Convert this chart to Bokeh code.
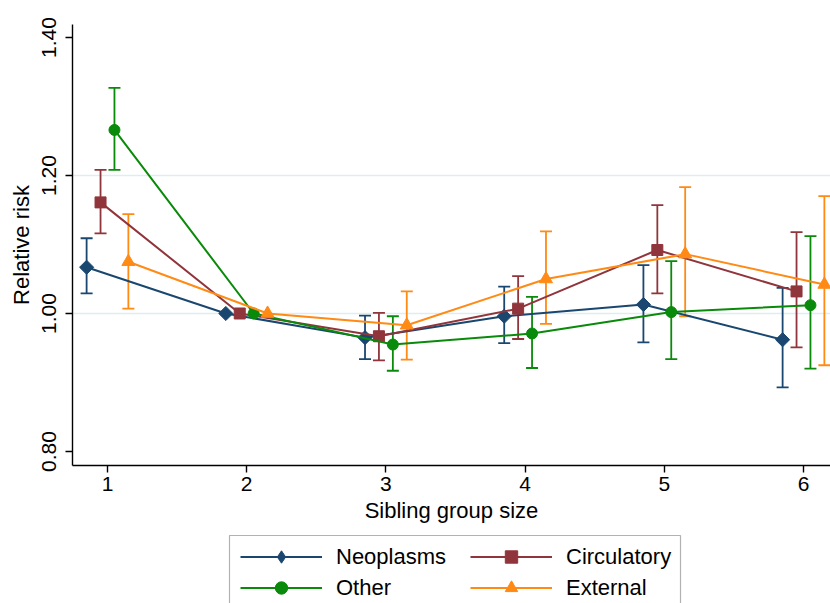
import math
from bokeh.plotting import figure
from bokeh.layouts import column
from bokeh.models import (ColumnDataSource, Whisker, TeeHead, FixedTicker,
                          PrintfTickFormatter, Legend, LegendItem, Range1d,
                          BoxAnnotation)
from bokeh.embed import file_html
from bokeh.resources import INLINE

# ---- data ----
sizes = [1, 2, 3, 4, 5, 6]

neo_rr = [1.067, 1.000, 0.965, 0.996, 1.013, 0.962]
neo_lo = [1.029, None, 0.934, 0.957, 0.958, 0.893]
neo_hi = [1.109, None, 0.997, 1.039, 1.070, 1.037]

circ_rr = [1.161, 1.000, 0.967, 1.007, 1.092, 1.032]
circ_lo = [1.116, None, 0.932, 0.963, 1.029, 0.951]
circ_hi = [1.208, None, 1.001, 1.054, 1.157, 1.118]

oth_rr = [1.266, 1.000, 0.955, 0.971, 1.002, 1.012]
oth_lo = [1.208, None, 0.917, 0.921, 0.934, 0.920]
oth_hi = [1.327, None, 0.996, 1.024, 1.076, 1.112]

ext_rr = [1.075, 1.000, 0.983, 1.050, 1.086, 1.042]
ext_lo = [1.007, None, 0.933, 0.985, 0.996, 0.925]
ext_hi = [1.144, None, 1.032, 1.119, 1.183, 1.170]

y_ticks = [0.80, 1.00, 1.20, 1.40]
grid_ticks = [1.00, 1.20]

# name, values, low, high, x offset, colour, marker, size, angle, legend marker
series = [
    ("Neoplasms", neo_rr, neo_lo, neo_hi, -0.15, "#1a476f", "square", 10, math.pi / 4, "diamond"),
    ("Circulatory", circ_rr, circ_lo, circ_hi, -0.05, "#90353b", "square", 11, 0.0, "square"),
    ("Other", oth_rr, oth_lo, oth_hi, 0.05, "#0a8a0a", "circle", 11, 0.0, "circle"),
    ("External", ext_rr, ext_lo, ext_hi, 0.15, "#ff8a14", "triangle", 13, 0.0, "triangle"),
]

FONT = "Liberation Sans"

p = figure(width=830, height=534, output_backend="svg", toolbar_location=None,
           x_range=Range1d(0.7486, 6.194), y_range=Range1d(0.7797, 1.4188),
           min_border_left=72, min_border_right=0, min_border_top=24,
           min_border_bottom=69)
p.outline_line_color = None
p.background_fill_color = "white"
p.xgrid.grid_line_color = None
p.ygrid.ticker = FixedTicker(ticks=grid_ticks)
p.ygrid.grid_line_color = "#e0edf0"
p.ygrid.grid_line_width = 1.5

p.xaxis.ticker = FixedTicker(ticks=sizes)
p.yaxis.ticker = FixedTicker(ticks=y_ticks)
p.yaxis.formatter = PrintfTickFormatter(format="%.2f")
p.yaxis.major_label_orientation = "vertical"
for ax in (p.xaxis[0], p.yaxis[0]):
    ax.axis_line_color = "black"
    ax.axis_line_width = 1.4
    ax.major_tick_line_color = "black"
    ax.major_tick_line_width = 1.4
    ax.major_tick_out = 7
    ax.major_tick_in = 0
    ax.minor_tick_line_color = None
    ax.major_label_text_font = FONT
    ax.major_label_text_font_size = "21px"
    ax.major_label_text_color = "black"
    ax.axis_label_text_font = FONT
    ax.axis_label_text_font_size = "22px"
    ax.axis_label_text_font_style = "normal"
    ax.axis_label_text_color = "black"
p.xaxis.axis_label = "Sibling group size"
p.yaxis.axis_label = "Relative risk"
p.xaxis.major_label_standoff = 4
p.xaxis.axis_label_standoff = 4
p.yaxis.major_label_standoff = 9
p.yaxis.axis_label_standoff = 6

# legend figure (below the chart); its frame lines up with the chart's frame
q = figure(width=830, height=69, output_backend="svg", toolbar_location=None,
           x_range=Range1d(72, 830), y_range=Range1d(1000, 1069),
           x_axis_location=None, y_axis_location=None,
           min_border_left=0, min_border_right=0, min_border_top=0,
           min_border_bottom=0)
q.outline_line_color = None
q.grid.grid_line_color = None

items = {}
for name, rr, lo, hi, off, col, mk, sz, ang, lmk in series:
    xs = [s + off for s in sizes]
    src = ColumnDataSource(dict(x=xs, y=rr))
    wx = [x for x, l in zip(xs, lo) if l is not None]
    wl = [l for l in lo if l is not None]
    wh = [h for h in hi if h is not None]
    wsrc = ColumnDataSource(dict(x=wx, lo=wl, hi=wh))
    w = Whisker(source=wsrc, base="x", lower="lo", upper="hi",
                line_color=col, line_width=1.8,
                upper_head=TeeHead(size=12, line_color=col, line_width=1.8),
                lower_head=TeeHead(size=12, line_color=col, line_width=1.8))
    p.add_layout(w)
    p.line("x", "y", source=src, line_color=col, line_width=2)
    p.scatter("x", "y", source=src, marker=mk, size=sz, angle=ang,
              fill_color=col, line_color=col)
    # same series in the legend figure (outside its visible range)
    ln = q.line("x", "y", source=src, line_color=col, line_width=2)
    sc = q.scatter("x", "y", source=src, marker=lmk, size=sz,
                   fill_color=col, line_color=col)
    items[name] = LegendItem(label=name, renderers=[ln, sc])

def make_legend(names, x):
    return Legend(items=[items[n] for n in names], location=(x, 0),
                  label_text_font=FONT, label_text_font_size="22px",
                  label_text_color="black",
                  glyph_width=82, glyph_height=31, label_standoff=14,
                  spacing=0, padding=0, margin=0,
                  border_line_color=None, background_fill_alpha=0.0)

q.add_layout(make_legend(["Neoplasms", "Other"], 240 - 72), "center")
q.add_layout(make_legend(["Circulatory", "External"], 470 - 72), "center")
q.add_layout(BoxAnnotation(left=229, right=680, top=1068, bottom=990,
                           fill_alpha=0.0, line_color="black",
                           line_width=1.2))

layout = column(p, q, spacing=0)
open("out.html", "w").write(file_html(layout, INLINE))
